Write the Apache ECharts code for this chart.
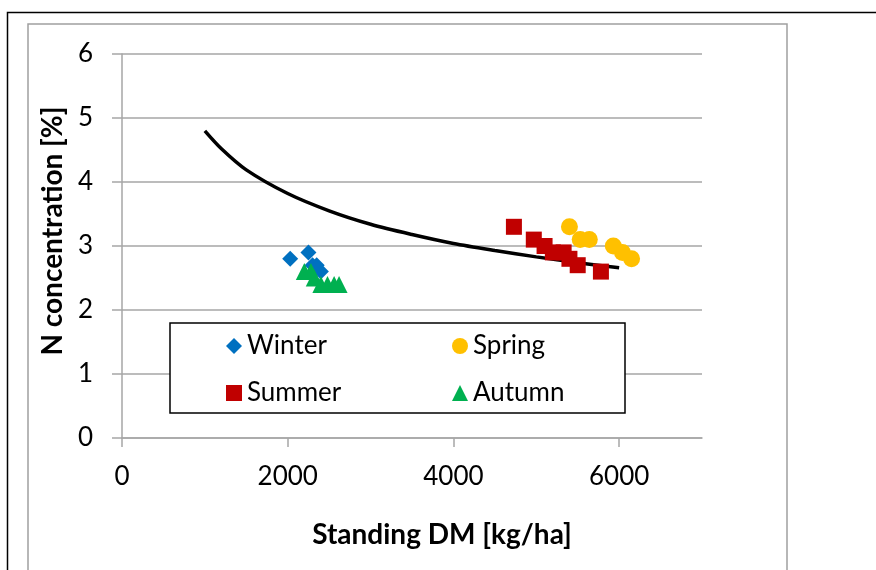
<!DOCTYPE html>
<html>
<head>
<meta charset="utf-8">
<script src="https://cdn.jsdelivr.net/npm/echarts@6/dist/echarts.min.js"></script>
<style>
  html, body { margin: 0; padding: 0; background: #fff; }
  #main { width: 876px; height: 570px; }
</style>
</head>
<body>
<div id="main"></div>
<script>
// data
var winter = [[2030, 2.8], [2250, 2.9], [2300, 2.7], [2350, 2.7], [2400, 2.6]];
var spring = [[5400, 3.3], [5530, 3.1], [5640, 3.1], [5930, 3.0], [6040, 2.9], [6150, 2.8]];
var summer = [[4730, 3.3], [4970, 3.1], [5100, 3.0], [5200, 2.9], [5330, 2.9], [5400, 2.8], [5500, 2.7], [5780, 2.6]];
var autumn = [[2200, 2.6], [2280, 2.6], [2320, 2.5], [2400, 2.4], [2480, 2.4], [2560, 2.4], [2620, 2.4]];
// critical N curve
var curveX = [1000, 1200, 1500, 2000, 2500, 3000, 3500, 4000, 4500, 5000, 5500, 6000];
var curveY = [4.8, 4.52, 4.19, 3.82, 3.55, 3.34, 3.18, 3.04, 2.93, 2.83, 2.74, 2.66];

var curve = curveX.map(function (x, i) { return [x, curveY[i]]; });

var font = 'Lato';
var gray = '#a6a6a6';

var myChart = echarts.init(document.getElementById('main'));

var option = {
    animation: false,
    textStyle: { fontFamily: font },
    grid: { left: 122, right: 174, top: 54, bottom: 132 },
    graphic: [
        { type: 'rect', z: 0, shape: { x: 7.5, y: 12.5, width: 900, height: 600 }, style: { fill: null, stroke: '#000', lineWidth: 1.5 } },
        { type: 'rect', z: 0, shape: { x: 28, y: 24, width: 759, height: 600 }, style: { fill: null, stroke: '#a0a0a0', lineWidth: 1.5 } },
        { type: 'rect', z: 10, shape: { x: 170, y: 323, width: 455, height: 90 }, style: { fill: '#fff', stroke: '#000', lineWidth: 1.5 } }
    ],
    legend: [
        {
            z: 20, orient: 'vertical', left: 221, top: 328, itemGap: 21,
            itemWidth: 16, itemHeight: 16,
            textStyle: { fontFamily: font, fontSize: 26, color: '#000' },
            data: [{ name: 'Winter', icon: 'diamond' }, { name: 'Summer', icon: 'rect' }]
        },
        {
            z: 20, orient: 'vertical', left: 447, top: 328, itemGap: 21,
            itemWidth: 16, itemHeight: 16,
            textStyle: { fontFamily: font, fontSize: 26, color: '#000' },
            data: [{ name: 'Spring', icon: 'circle' }, { name: 'Autumn', icon: 'triangle' }]
        }
    ],
    xAxis: {
        type: 'value', min: 0, max: 7000, interval: 2000,
        name: 'Standing DM [kg/ha]', nameLocation: 'middle', nameGap: 83,
        nameTextStyle: { fontFamily: font, fontSize: 28, fontWeight: 'bold', color: '#000', padding: [0, 0, 0, 60] },
        axisLine: { lineStyle: { color: gray, width: 1.5 } },
        axisTick: { show: true, length: 9, lineStyle: { color: gray, width: 1.5 } },
        axisLabel: {
            fontSize: 26, color: '#000', margin: 26, showMaxLabel: false,
            formatter: function (v) { return String(v); }
        },
        splitLine: { show: false }
    },
    yAxis: {
        type: 'value', min: 0, max: 6, interval: 1,
        name: 'N concentration [%]', nameLocation: 'middle', nameGap: 55, nameRotate: 90,
        nameTextStyle: { fontFamily: font, fontSize: 28, fontWeight: 'bold', color: '#000', padding: [0, 0, 0, 30] },
        axisLine: { show: true, lineStyle: { color: gray, width: 1.5 } },
        axisTick: { show: true, length: 10, lineStyle: { color: gray, width: 1.5 } },
        axisLabel: { fontSize: 26, color: '#000', margin: 29 },
        splitLine: { show: true, lineStyle: { color: gray, width: 1.5 } }
    },
    series: [
        {
            name: 'curve', type: 'line', data: curve, smooth: 0.3, symbol: 'none',
            lineStyle: { color: '#000', width: 3.5 }, z: 1
        },
        {
            name: 'Winter', type: 'scatter', data: winter, symbol: 'diamond', symbolSize: 16,
            itemStyle: { color: '#0070C0', opacity: 1 }
        },
        {
            name: 'Spring', type: 'scatter', data: spring, symbol: 'circle', symbolSize: 17,
            itemStyle: { color: '#FFC000', opacity: 1 }
        },
        {
            name: 'Summer', type: 'scatter', data: summer, symbol: 'rect', symbolSize: 16,
            itemStyle: { color: '#C00000', opacity: 1 }
        },
        {
            name: 'Autumn', type: 'scatter', data: autumn, symbol: 'triangle', symbolSize: 17,
            itemStyle: { color: '#00B050', opacity: 1 }
        }
    ]
};

myChart.setOption(option);
</script>
</body>
</html>
